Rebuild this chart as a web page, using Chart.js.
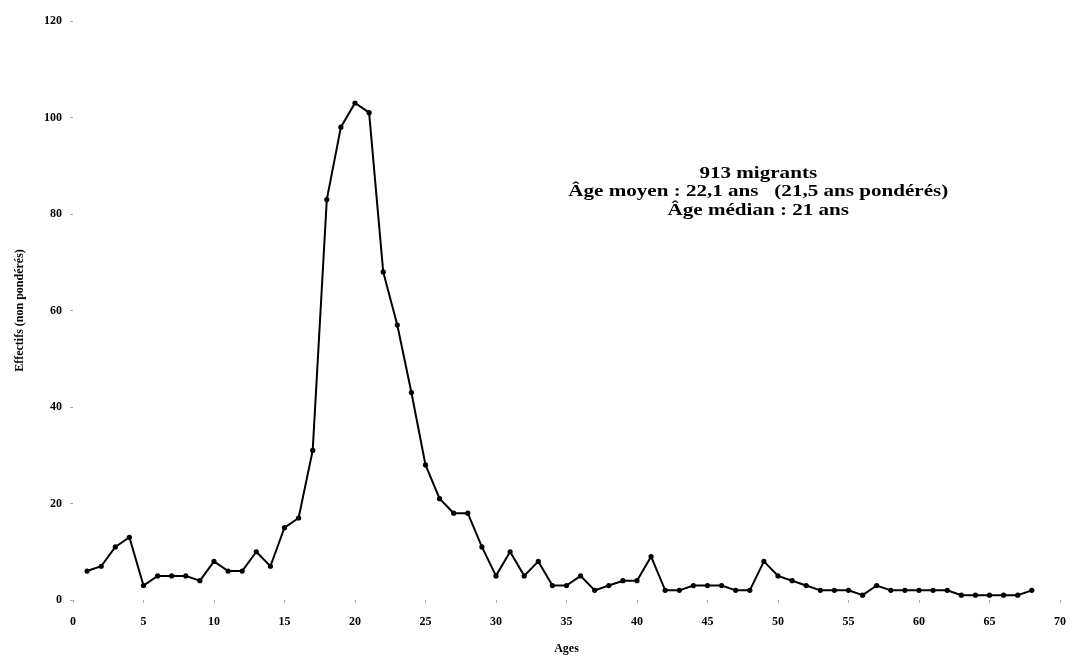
<!DOCTYPE html>
<html>
<head>
<meta charset="utf-8">
<script src="https://cdn.jsdelivr.net/npm/chart.js@4"></script>
<style>
  html, body { margin: 0; padding: 0; background: #fff; }
  #wrap { width: 1078px; height: 656px; }
</style>
</head>
<body>
<div id="wrap"><canvas id="graphAges" width="1078" height="656"></canvas></div>
<script>
// Ages (x) and effectifs non pondérés (y)
let ages = [1,2,3,4,5,6,7,8,9,10,11,12,13,14,15,16,17,18,19,20,21,22,23,24,25,26,27,28,29,30,31,32,33,34,35,36,37,38,39,40,41,42,43,44,45,46,47,48,49,50,51,52,53,54,55,56,57,58,59,60,61,62,63,64,65,66,67,68];
let effectifs = [6,7,11,13,3,5,5,5,4,8,6,6,10,7,15,17,31,83,98,103,101,68,57,43,28,21,18,18,11,5,10,5,8,3,3,5,2,3,4,4,9,2,2,3,3,3,2,2,8,5,4,3,2,2,2,1,3,2,2,2,2,2,1,1,1,1,1,2];
let notes = ['913 migrants', 'Âge moyen : 22,1 ans   (21,5 ans pondérés)', 'Âge médian : 21 ans'];

document.addEventListener('DOMContentLoaded', function () {
  var ctx = document.getElementById('graphAges').getContext('2d');
  var serif = "'Liberation Serif', 'DejaVu Serif', serif";

  var points = ages.map(function (a, i) { return { x: a, y: effectifs[i] }; });

  // Texte d'information dans le graphique (un peu étiré en largeur)
  var notePlugin = {
    id: 'notes',
    afterDraw: function (chart) {
      var c = chart.ctx;
      var cx = chart.scales.x.getPixelForValue(48.6);
      var y0 = chart.scales.y.getPixelForValue(88.4);
      c.save();
      c.translate(cx, y0);
      c.scale(1.24, 1);
      c.fillStyle = '#000';
      c.font = 'bold 17px ' + serif;
      c.textAlign = 'center';
      c.textBaseline = 'middle';
      notes.forEach(function (t, i) { c.fillText(t, 0, i * 18.5); });
      c.restore();
    }
  };

  new Chart(ctx, {
    type: 'line',
    data: {
      datasets: [{
        data: points,
        borderColor: '#000',
        backgroundColor: '#000',
        borderWidth: 2,
        pointRadius: 2.6,
        pointBorderWidth: 0,
        tension: 0
      }]
    },
    options: {
      responsive: false,
      animation: false,
      layout: { padding: { top: 21, right: 11, left: 3, bottom: 0 } },
      plugins: { legend: { display: false }, tooltip: { enabled: false } },
      scales: {
        x: {
          type: 'linear',
          min: 0, max: 70,
          afterFit: function (s) { s.height = 56; },
          border: { display: false },
          grid: { drawOnChartArea: false, drawTicks: true, tickLength: 3, color: '#aaa' },
          ticks: { stepSize: 5, color: '#000', padding: 12, maxRotation: 0, font: { family: serif, size: 12, weight: 'bold' } },
          title: { display: true, text: 'Ages', color: '#000', padding: { top: 0, bottom: 0 }, font: { family: serif, size: 12, weight: 'bold' } }
        },
        y: {
          min: 0, max: 120,
          afterFit: function (s) { s.width = 70; },
          border: { display: false },
          grid: { drawOnChartArea: false, drawTicks: true, tickLength: 3, color: '#aaa' },
          ticks: { stepSize: 20, color: '#000', padding: 8, font: { family: serif, size: 12, weight: 'bold' } },
          title: { display: true, text: 'Effectifs (non pondérés)', color: '#000', padding: { top: 10, bottom: 0 }, font: { family: serif, size: 12, weight: 'bold' } }
        }
      }
    },
    plugins: [notePlugin]
  });
});
</script>
</body>
</html>
